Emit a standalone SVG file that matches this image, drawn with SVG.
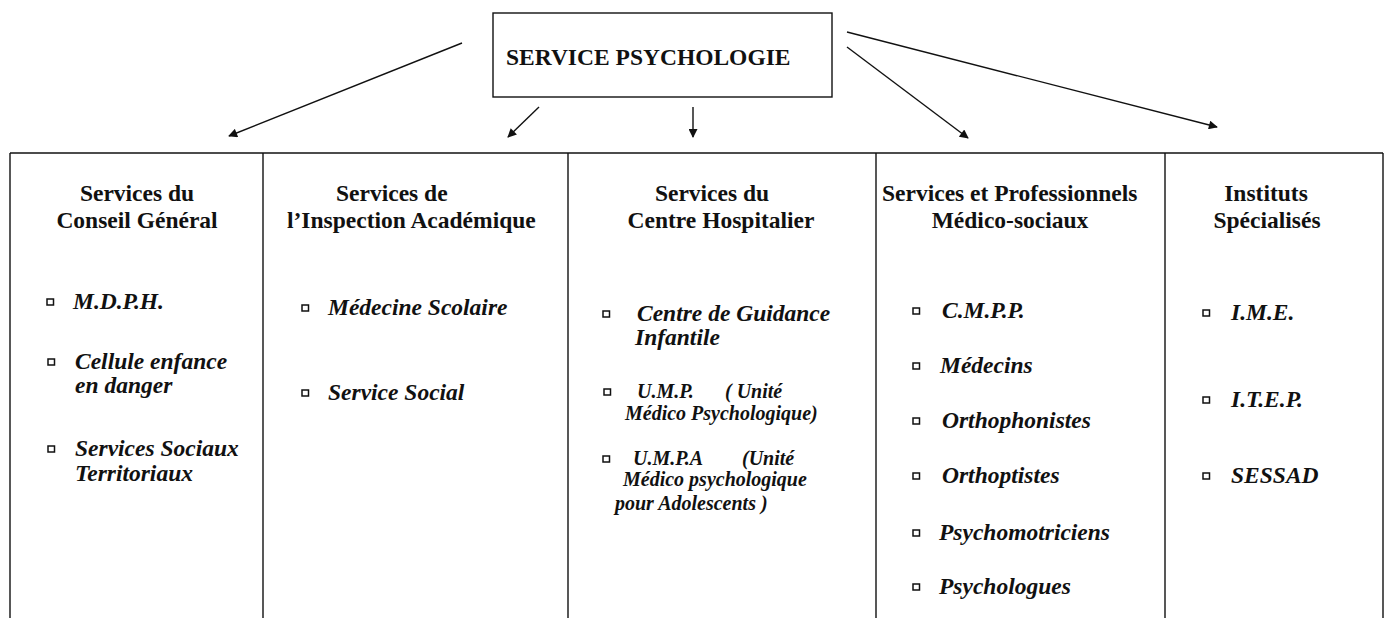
<svg xmlns="http://www.w3.org/2000/svg" width="1390" height="618" viewBox="0 0 1390 618">
  <style>
    .frame { fill: none; stroke: #111; stroke-width: 1.4; }
    .conn { fill: none; stroke: #111; stroke-width: 1.4; }
    .title { font-family: "Liberation Serif", "Times New Roman", serif; font-weight: bold; font-size: 23.5px; fill: #111; }
    .head { font-family: "Liberation Serif", "Times New Roman", serif; font-weight: bold; font-size: 23.5px; fill: #111; }
    .mid { text-anchor: middle; }
    .item { font-family: "Liberation Serif", "Times New Roman", serif; font-weight: bold; font-style: italic; font-size: 23.5px; fill: #111; }
    .small { font-family: "Liberation Serif", "Times New Roman", serif; font-weight: bold; font-style: italic; font-size: 20px; fill: #111; }
  </style>
  <defs>
    <marker id="arrow" viewBox="0 0 10 10" refX="9" refY="5" markerWidth="12" markerHeight="9" markerUnits="userSpaceOnUse" orient="auto">
      <path d="M0,0 L10,5 L0,10 z" fill="#111"/>
    </marker>
    <rect id="bullet" x="-3" y="-3" width="6.5" height="6" fill="none" stroke="#111" stroke-width="1.5"/>
  </defs>
  <rect width="1390" height="618" fill="#fff"/>

  <!-- root node -->
  <g id="service-psychologie">
    <rect class="frame" x="493" y="13" width="339" height="84"/>
    <text class="title" x="506" y="65">SERVICE PSYCHOLOGIE</text>
  </g>

  <!-- connectors -->
  <g id="connectors">
    <line class="conn" x1="462" y1="43" x2="229" y2="136" marker-end="url(#arrow)"/>
    <line class="conn" x1="539" y1="107" x2="508" y2="137" marker-end="url(#arrow)"/>
    <line class="conn" x1="693" y1="107" x2="693" y2="137" marker-end="url(#arrow)"/>
    <line class="conn" x1="847" y1="47" x2="968" y2="138" marker-end="url(#arrow)"/>
    <line class="conn" x1="847" y1="32" x2="1217" y2="127" marker-end="url(#arrow)"/>
  </g>

  <!-- table frame -->
  <g id="table">
    <line class="frame" x1="10" y1="153" x2="1383" y2="153"/>
    <line class="frame" x1="10" y1="153" x2="10" y2="618"/>
    <line class="frame" x1="263" y1="153" x2="263" y2="618"/>
    <line class="frame" x1="568" y1="153" x2="568" y2="618"/>
    <line class="frame" x1="876" y1="153" x2="876" y2="618"/>
    <line class="frame" x1="1165" y1="153" x2="1165" y2="618"/>
    <line class="frame" x1="1383" y1="153" x2="1383" y2="618"/>
  </g>

  <!-- column 1 -->
  <g id="conseil-general">
    <text class="head mid" x="137" y="201">Services du</text>
    <text class="head mid" x="137" y="228">Conseil Général</text>
    <use href="#bullet" x="50" y="302"/>
    <text class="item" x="73" y="309">M.D.P.H.</text>
    <use href="#bullet" x="51" y="362"/>
    <text class="item" x="75" y="369">Cellule enfance</text>
    <text class="item" x="75" y="393">en danger</text>
    <use href="#bullet" x="51" y="449"/>
    <text class="item" x="75" y="456">Services Sociaux</text>
    <text class="item" x="75" y="481">Territoriaux</text>
  </g>

  <!-- column 2 -->
  <g id="inspection-academique">
    <text class="head" x="336" y="201">Services de</text>
    <text class="head" x="287" y="228">l’Inspection Académique</text>
    <use href="#bullet" x="305" y="308"/>
    <text class="item" x="328" y="315">Médecine Scolaire</text>
    <use href="#bullet" x="305" y="393"/>
    <text class="item" x="328" y="400">Service Social</text>
  </g>

  <!-- column 3 -->
  <g id="centre-hospitalier">
    <text class="head mid" x="712" y="201">Services du</text>
    <text class="head mid" x="721" y="228">Centre Hospitalier</text>
    <use href="#bullet" x="606" y="314"/>
    <text class="item" x="637" y="321">Centre de Guidance</text>
    <text class="item" x="635" y="345">Infantile</text>
    <use href="#bullet" x="607" y="392"/>
    <text class="small" x="637" y="398">U.M.P.</text>
    <text class="small" x="725" y="398">( Unité</text>
    <text class="small" x="625" y="420">Médico Psychologique)</text>
    <use href="#bullet" x="606" y="459"/>
    <text class="small" x="633" y="465">U.M.P.A</text>
    <text class="small" x="742" y="465">(Unité</text>
    <text class="small" x="623" y="486">Médico psychologique</text>
    <text class="small" x="615" y="510">pour Adolescents )</text>
  </g>

  <!-- column 4 -->
  <g id="medico-sociaux">
    <text class="head" x="882" y="201">Services et Professionnels</text>
    <text class="head mid" x="1010" y="228">Médico-sociaux</text>
    <use href="#bullet" x="916" y="311"/>
    <text class="item" x="942" y="318">C.M.P.P.</text>
    <use href="#bullet" x="916" y="366"/>
    <text class="item" x="940" y="373">Médecins</text>
    <use href="#bullet" x="916" y="421"/>
    <text class="item" x="942" y="428">Orthophonistes</text>
    <use href="#bullet" x="916" y="476"/>
    <text class="item" x="942" y="483">Orthoptistes</text>
    <use href="#bullet" x="916" y="533"/>
    <text class="item" x="939" y="540">Psychomotriciens</text>
    <use href="#bullet" x="916" y="587"/>
    <text class="item" x="939" y="594">Psychologues</text>
  </g>

  <!-- column 5 -->
  <g id="instituts-specialises">
    <text class="head mid" x="1266" y="201">Instituts</text>
    <text class="head mid" x="1267" y="228">Spécialisés</text>
    <use href="#bullet" x="1206" y="313"/>
    <text class="item" x="1231" y="320">I.M.E.</text>
    <use href="#bullet" x="1206" y="400"/>
    <text class="item" x="1231" y="407">I.T.E.P.</text>
    <use href="#bullet" x="1206" y="476"/>
    <text class="item" x="1231" y="483">SESSAD</text>
  </g>
</svg>
